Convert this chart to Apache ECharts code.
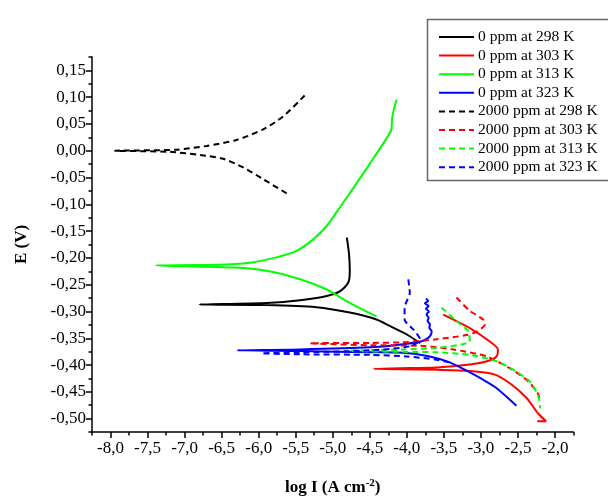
<!DOCTYPE html>
<html><head><meta charset="utf-8">
<script src="https://cdn.jsdelivr.net/npm/echarts@6/dist/echarts.min.js"></script>
<style>html,body{margin:0;padding:0;background:#fff}#c{width:608px;height:498px}</style>
</head><body><div id="c"></div><script>
// Series names (legend order)
const names = ['0 ppm at 298 K','0 ppm at 303 K','0 ppm at 313 K','0 ppm at 323 K',
  '2000 ppm at 298 K','2000 ppm at 303 K','2000 ppm at 313 K','2000 ppm at 323 K'];
const colors = ['#000000','#ff0000','#00ff00','#0000ff','#000000','#ff0000','#00ff00','#0000ff'];

// [log I, E] pairs
const s0_298 = [[-4.81,-0.162],[-4.78,-0.193],[-4.77,-0.224],[-4.79,-0.246],[-4.90,-0.262],[-5.08,-0.271],[-5.44,-0.279],[-5.89,-0.284],[-6.80,-0.287],
  [-5.89,-0.288],[-5.22,-0.292],[-4.77,-0.302],[-4.41,-0.315],[-4.23,-0.327],[-4.00,-0.343],[-3.82,-0.359]];
const s0_303 = [[-3.51,-0.306],[-3.15,-0.331],[-2.88,-0.356],[-2.77,-0.371],[-2.79,-0.384],[-2.92,-0.393],[-3.15,-0.399],[-3.60,-0.4045],[-4.09,-0.406],[-4.45,-0.407],
  [-4.09,-0.408],[-3.60,-0.409],[-3.15,-0.411],[-2.83,-0.417],[-2.61,-0.434],[-2.38,-0.462],[-2.23,-0.490],[-2.12,-0.505],[-2.24,-0.505]];
const s0_313 = [[-4.14,0.095],[-4.18,0.074],[-4.20,0.058],[-4.21,0.039],[-4.27,0.024],[-4.45,-0.014],[-4.68,-0.061],[-4.90,-0.105],[-5.08,-0.140],[-5.26,-0.165],[-5.49,-0.187],[-5.76,-0.199],[-6.12,-0.209],[-6.57,-0.213],[-7.39,-0.214],
  [-6.34,-0.218],[-5.89,-0.224],[-5.44,-0.240],[-5.08,-0.259],[-4.81,-0.281],[-4.41,-0.309]];
const s0_323 = [[-3.742,-0.276],[-3.711,-0.2805],[-3.756,-0.2848],[-3.706,-0.2899],[-3.742,-0.2949],[-3.702,-0.2999],[-3.733,-0.3055],[-3.706,-0.3118],[-3.719,-0.318],[-3.688,-0.3243],[-3.697,-0.3306],[-3.665,-0.3368],[-3.674,-0.343],[-3.711,-0.3494],[-3.80,-0.3556],
  [-4.05,-0.361],[-4.50,-0.367],[-5.44,-0.371],[-6.29,-0.3725],
  [-5.44,-0.374],[-4.50,-0.376],[-4.05,-0.377],[-3.69,-0.384],[-3.42,-0.395],[-3.20,-0.410],[-3.00,-0.425],[-2.80,-0.442],[-2.52,-0.476]];
const s2000_298 = [[-5.38,0.103],[-5.67,0.064],[-5.94,0.040],[-6.30,0.020],[-6.70,0.009],[-7.11,0.002],[-7.94,0.0],
  [-7.20,-0.002],[-6.79,-0.008],[-6.48,-0.015],[-6.21,-0.031],[-5.94,-0.053],[-5.58,-0.083]];
const s2000_303 = [[-3.33,-0.274],[-3.15,-0.299],[-2.97,-0.315],[-2.945,-0.324],[-3.06,-0.338],[-3.19,-0.344],[-3.60,-0.352],[-4.05,-0.3575],[-4.50,-0.3588],[-5.31,-0.3594],
  [-4.50,-0.363],[-3.82,-0.364],[-3.37,-0.371],[-2.92,-0.384],[-2.61,-0.406],[-2.38,-0.428],[-2.23,-0.453],[-2.20,-0.468]];
const s2000_313 = [[-3.53,-0.293],[-3.33,-0.318],[-3.17,-0.337],[-3.15,-0.356],[-3.28,-0.362],[-3.60,-0.368],[-4.05,-0.371],[-4.84,-0.3735],
  [-4.05,-0.3754],[-3.60,-0.3763],[-3.15,-0.381],[-2.79,-0.393],[-2.56,-0.409],[-2.34,-0.431],[-2.23,-0.456],[-2.20,-0.481]];
const s2000_323 = [[-3.98,-0.240],[-3.96,-0.265],[-4.03,-0.293],[-4.03,-0.315],[-3.91,-0.334],[-3.82,-0.352],[-3.96,-0.365],[-4.50,-0.3726],[-5.44,-0.3763],[-5.96,-0.378],
  [-5.44,-0.380],[-4.50,-0.381],[-4.00,-0.384],[-3.60,-0.390],[-3.42,-0.395]];
const allData = [s0_298,s0_303,s0_313,s0_323,s2000_298,s2000_303,s2000_313,s2000_323];

// Axis ticks / labels
const xLabels = [-8.0,-7.5,-7.0,-6.5,-6.0,-5.5,-5.0,-4.5,-4.0,-3.5,-3.0,-2.5,-2.0];
const xMinor = [-8.25,-7.75,-7.25,-6.75,-6.25,-5.75,-5.25,-4.75,-4.25,-3.75,-3.25,-2.75,-2.25,-1.75];
const yLabels = [0.15,0.10,0.05,0.00,-0.05,-0.10,-0.15,-0.20,-0.25,-0.30,-0.35,-0.40,-0.45,-0.50];
const yMinor = [0.175,0.125,0.075,0.025,-0.025,-0.075,-0.125,-0.175,-0.225,-0.275,-0.325,-0.375,-0.425,-0.475,-0.525];

const FONT = 'Liberation Serif';
const fmt = (d) => (v) => { const s = Math.abs(v).toFixed(d).replace('.', ','); return (v < -1e-9 ? '-' : '') + s; };
const axisLine = {show:true, onZero:false, lineStyle:{color:'#000', width:1.5}};

const series = allData.map((d,i) => ({
  name: names[i], type:'line', data:d, showSymbol:false, symbol:'none', smooth:0.25,
  xAxisIndex:0, yAxisIndex:0, animation:false,
  lineStyle:{color:colors[i], width:2, type: i<4 ? 'solid' : [6,4]},
  itemStyle:{color:colors[i]}
}));

const chart = echarts.init(document.getElementById('c'), null, {renderer:'canvas'});
chart.setOption({
  animation:false,
  backgroundColor:'#fff',
  grid:{left:92, right:34.5, top:57, bottom:66, containLabel:false, outerBoundsMode:'none'},
  legend:{
    data: names.map((n,i)=>({name:n})), orient:'vertical', left:438, top:29, padding:0,
    itemWidth:35, itemHeight:10, itemGap:2.6, itemStyle:{opacity:0},
    textStyle:{fontFamily:FONT, fontSize:15.5, color:'#000', padding:[0,0,0,-1]}
  },
  graphic:[{type:'rect', shape:{x:427.5, y:19.5, width:200, height:161}, style:{fill:'none', stroke:'#666', lineWidth:1.5}, z:10}],
  xAxis:[{
    type:'value', min:-8.25, max:-1.75, position:'bottom',
    axisLine, splitLine:{show:false},
    axisTick:{show:true, customValues:xLabels, length:6, lineStyle:{color:'#000', width:1.5}},
    axisLabel:{customValues:xLabels, formatter:fmt(1), fontFamily:FONT, fontSize:17, color:'#000', margin:8},
    name:'{b|log I (A cm}{s|-2}{b|)}', nameLocation:'middle', nameGap:46,
    nameTextStyle:{rich:{
      b:{fontFamily:FONT, fontWeight:'bold', fontSize:17, color:'#000'},
      s:{fontFamily:FONT, fontWeight:'bold', fontSize:11, color:'#000', verticalAlign:'top', padding:[0,0,8,0]}
    }}
  },{
    type:'value', min:-8.25, max:-1.75, position:'bottom', offset:0,
    axisLine:{show:false, onZero:false}, splitLine:{show:false}, axisLabel:{show:false},
    axisTick:{show:true, customValues:xMinor, length:3.5, lineStyle:{color:'#000', width:1.5}}
  }],
  yAxis:[{
    type:'value', min:-0.525, max:0.175, position:'left',
    axisLine, splitLine:{show:false},
    axisTick:{show:true, customValues:yLabels, length:6, lineStyle:{color:'#000', width:1.5}},
    axisLabel:{customValues:yLabels, formatter:fmt(2), fontFamily:FONT, fontSize:17, color:'#000', margin:6},
    name:'E (V)', nameLocation:'middle', nameGap:62, nameRotate:90,
    nameTextStyle:{fontFamily:FONT, fontWeight:'bold', fontSize:17, color:'#000'}
  },{
    type:'value', min:-0.525, max:0.175, position:'left', offset:0,
    axisLine:{show:false, onZero:false}, splitLine:{show:false}, axisLabel:{show:false},
    axisTick:{show:true, customValues:yMinor, length:3.5, lineStyle:{color:'#000', width:1.5}}
  }],
  series
});
</script></body></html>
